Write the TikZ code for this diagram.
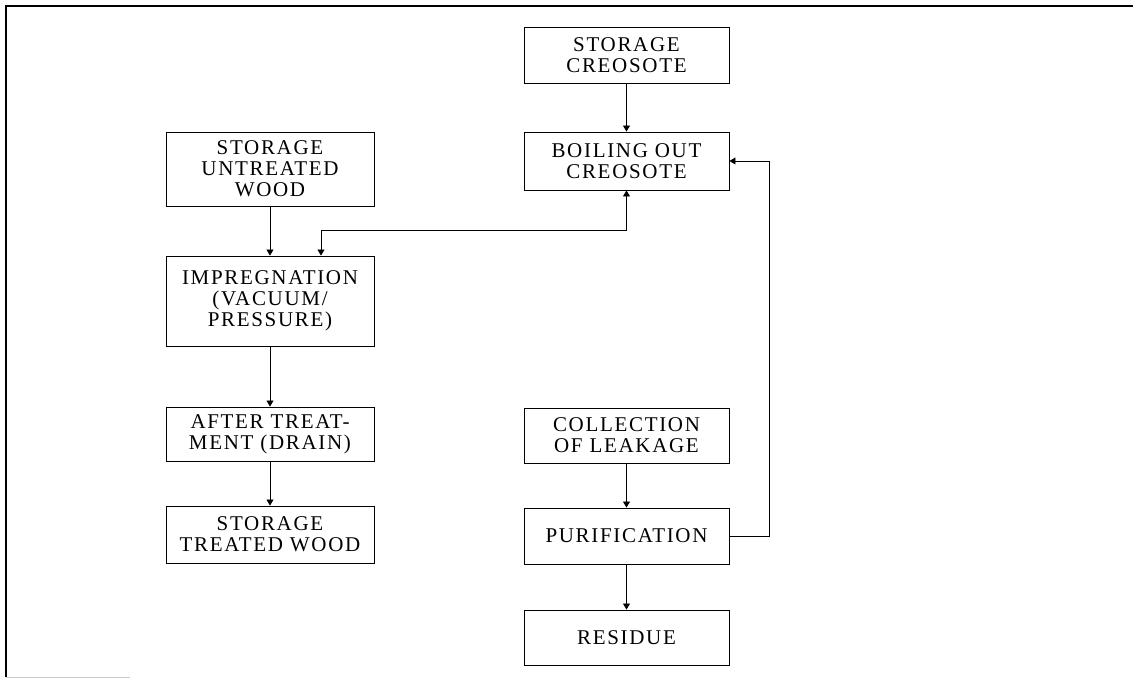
\documentclass[tikz,border=0pt]{standalone}
\usepackage{fontspec}
\setmainfont[LetterSpace=8]{Liberation Serif}
\usepackage{tikz}
\usetikzlibrary{arrows.meta}
\tikzset{
  procbox/.style={draw, line width=0.9pt, inner sep=0pt, align=center,
    font=\fontsize{21}{21}\selectfont},
  leftcol/.style={procbox, minimum width=208pt},
  rightcol/.style={procbox, minimum width=205pt},
  flow/.style={line width=0.8pt, -{Triangle[width=7pt,length=6pt]}},
  twoway/.style={line width=0.8pt, {Triangle[width=7pt,length=6pt]}-{Triangle[width=7pt,length=6pt]}}
}

\begin{document}
\begin{tikzpicture}[x=1pt,y=-1pt]
      \useasboundingbox (0,0) rectangle (1133,679);
      \draw[line width=2pt] (6,677) -- (6,6) -- (1133,6);
      \draw[gray!40, line width=1pt] (6,677) -- (130,677);
      \node[rightcol, minimum height=56pt] (creo) at (626.5,55) {STORAGE\\CREOSOTE};
      \node[rightcol, minimum height=58pt] (boil) at (626.5,161) {BOILING OUT\\CREOSOTE};
      \node[leftcol, minimum height=74pt] (untr) at (270,169) {STORAGE\\UNTREATED\\WOOD};
      \node[leftcol, minimum height=90pt] (impr) at (270,301) {IMPREGNATION\\(VACUUM/\\PRESSURE)};
      \node[leftcol, minimum height=54pt] (drain) at (270,434) {AFTER TREAT-\\MENT (DRAIN)};
      \node[leftcol, minimum height=57pt] (trtd) at (270,534.5) {STORAGE\\TREATED WOOD};
      \node[rightcol, minimum height=55pt] (leak) at (626.5,435.5) {COLLECTION\\OF LEAKAGE};
      \node[rightcol, minimum height=56pt] (puri) at (626.5,536) {PURIFICATION};
      \node[rightcol, minimum height=55pt] (resi) at (626.5,637.5) {RESIDUE};
      \coordinate (split) at (321,230);
      \coordinate (back) at (769,0);
      \draw[flow] (creo) -- (boil);
      \draw[flow] (untr) -- (impr);
      \draw[flow] (impr) -- (drain);
      \draw[flow] (drain) -- (trtd);
      \draw[flow] (leak) -- (puri);
      \draw[flow] (puri) -- (resi);
      \draw[twoway] (boil.south) |- (split) -- (split |- impr.north);
      \draw[flow] (puri.east) -| (back |- boil.east) -- (boil.east);
    \end{tikzpicture}
\end{document}
